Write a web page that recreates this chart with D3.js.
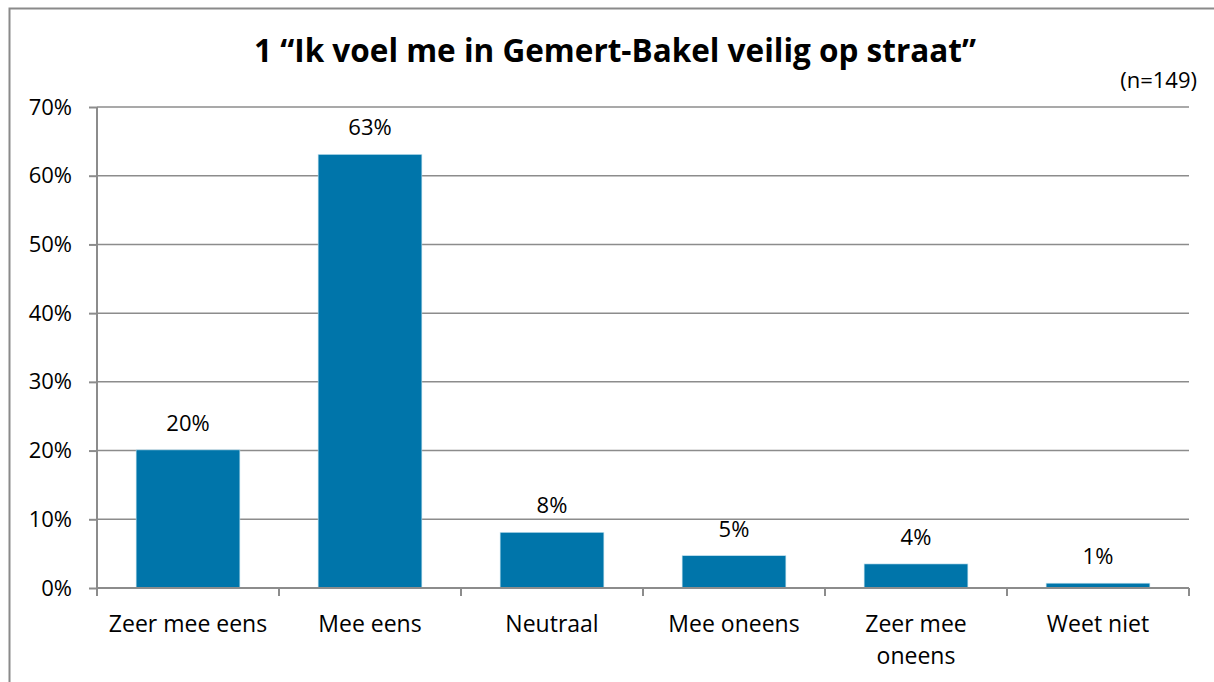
<!DOCTYPE html>
<html lang="nl">
<head>
<meta charset="UTF-8">
<title>Veilig op straat</title>
<script src="https://d3js.org/d3.v7.min.js"></script>
<style>
  body { margin: 0; background: #fff; }
  svg { display: block; font-family: "Open Sans", sans-serif; }
</style>
</head>
<body>
<svg width="1214" height="682"></svg>
<script>
  // data (n=149)
  const categories = ["Zeer mee eens", "Mee eens", "Neutraal", "Mee oneens", "Zeer mee oneens", "Weet niet"];
  const values = [20.1, 63.1, 8.1, 4.7, 3.5, 0.7];
  const valueLabels = ["20%", "63%", "8%", "5%", "4%", "1%"];
  const yTicks = [0, 10, 20, 30, 40, 50, 60, 70];

  const svg = d3.select("svg");
  const margin = { top: 107, right: 25, bottom: 94, left: 97 };
  const W = 1214, H = 682;
  const font = "'Open Sans', sans-serif";

  // outer frame
  svg.append("rect")
      .attr("x", 9.5).attr("y", 8.5)
      .attr("width", W + 20).attr("height", H + 20)
      .attr("fill", "none").attr("stroke", "#8a8a8a").attr("stroke-width", 2);

  const x = d3.scaleBand()
      .domain(categories)
      .range([margin.left, W - margin.right])
      .paddingInner(0.43)
      .paddingOuter(0.215);

  const y = d3.scaleLinear()
      .domain([0, 70])
      .range([H - margin.bottom, margin.top]);

  // gridlines
  svg.append("g").selectAll("line")
      .data(yTicks.slice(1))
      .join("line")
      .attr("x1", margin.left).attr("x2", W - margin.right)
      .attr("y1", d => y(d)).attr("y2", d => y(d))
      .attr("stroke", "#8c8c8c").attr("stroke-width", 1.5);

  // bars
  svg.append("g").selectAll("rect")
      .data(values)
      .join("rect")
      .attr("x", (d, i) => x(categories[i]))
      .attr("y", d => y(d))
      .attr("width", x.bandwidth())
      .attr("height", d => y(0) - y(d))
      .attr("fill", "#0075aa")
      .attr("stroke", "#bfe0ee").attr("stroke-width", 0.6);

  // y axis
  const yAxis = svg.append("g")
      .attr("transform", `translate(${margin.left},0)`)
      .call(d3.axisLeft(y).tickValues(yTicks).tickFormat(d => d + "%").tickSize(8).tickPadding(17));
  yAxis.attr("font-family", font).attr("font-size", 22);
  yAxis.select(".domain").attr("stroke", "#8c8c8c").attr("stroke-width", 2).attr("d", `M0,${y(70)}V${y(0)}`);
  yAxis.selectAll(".tick line").attr("stroke", "#8c8c8c").attr("stroke-width", 2);
  yAxis.selectAll(".tick text").attr("fill", "#000");

  // x axis baseline and ticks between categories
  const xAxisG = svg.append("g");
  xAxisG.append("line")
      .attr("x1", margin.left).attr("x2", W - margin.right)
      .attr("y1", y(0)).attr("y2", y(0))
      .attr("stroke", "#8c8c8c").attr("stroke-width", 2);
  const bounds = d3.range(categories.length + 1).map(i => margin.left + (W - margin.left - margin.right) * i / categories.length);
  xAxisG.selectAll(".xt")
      .data(bounds)
      .join("line")
      .attr("x1", d => d).attr("x2", d => d)
      .attr("y1", y(0)).attr("y2", y(0) + 8)
      .attr("stroke", "#8c8c8c").attr("stroke-width", 2);

  // category labels (wrapped like the original)
  const wrapped = { "Zeer mee oneens": ["Zeer mee", "oneens"] };
  categories.forEach(c => {
    const lines = wrapped[c] || [c];
    const t = svg.append("text")
        .attr("x", x(c) + x.bandwidth() / 2)
        .attr("y", 632)
        .attr("text-anchor", "middle")
        .attr("font-size", 23);
    lines.forEach((l, j) => {
      t.append("tspan").attr("x", x(c) + x.bandwidth() / 2).attr("dy", j ? 32 : 0).text(l);
    });
  });

  // value labels
  svg.append("g").selectAll("text")
      .data(values)
      .join("text")
      .attr("x", (d, i) => x(categories[i]) + x.bandwidth() / 2)
      .attr("y", d => y(d) - 19)
      .attr("text-anchor", "middle")
      .attr("font-size", 22)
      .text((d, i) => valueLabels[i]);

  // title and n
  svg.append("text")
      .attr("x", 615).attr("y", 62)
      .attr("text-anchor", "middle")
      .attr("font-size", 31.5).attr("font-weight", "bold")
      .text("1 \u201cIk voel me in Gemert-Bakel veilig op straat\u201d");

  svg.append("text")
      .attr("x", 1197).attr("y", 88)
      .attr("text-anchor", "end")
      .attr("font-size", 22)
      .text("(n=149)");
</script>
</body>
</html>
